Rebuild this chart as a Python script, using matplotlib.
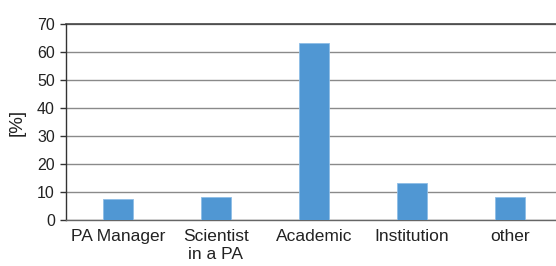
import matplotlib
matplotlib.use('Agg')
import matplotlib.pyplot as plt
import numpy as np

categories = ['PA Manager', 'Scientist\nin a PA', 'Academic', 'Institution', 'other']
values = [7.4, 8.1, 63.1, 13.2, 8.1]
yticks = [0, 10, 20, 30, 40, 50, 60, 70]

plt.rcParams['font.family'] = ['Liberation Sans', 'DejaVu Sans']

fig = plt.figure(figsize=(5.56, 2.66), dpi=100)
ax = fig.add_axes([66/556, 46/266, 490/556, 196/266])

x = np.arange(len(categories))
ax.bar(x, values, width=0.31, color='#5097D3', edgecolor='#8DBDE6', linewidth=0.6, zorder=3)

ax.set_ylim(0, 70)
ax.set_xlim(-0.53, 4.47)
ax.set_yticks(yticks)
ax.set_xticks(x)
ax.set_xticklabels(categories, color='#222222', fontsize=12.5, linespacing=1.25)
ax.set_yticklabels([str(v) for v in yticks], fontsize=11.5)
ax.yaxis.grid(True, color='#8a8a8a', linewidth=1.0, zorder=0)
ax.set_axisbelow(True)

for s in ['top', 'right']:
    ax.spines[s].set_visible(False)
ax.spines['left'].set_color('#333333')
ax.spines['bottom'].set_color('#666666')
ax.spines['left'].set_linewidth(1.0)
ax.spines['bottom'].set_linewidth(1.0)

ax.tick_params(axis='y', length=4, width=1.0, color='#333333', pad=4, labelcolor='#222222')
ax.tick_params(axis='x', length=0, pad=6.5)
ax.set_ylabel('[%]', color='#222222', fontsize=13.5, labelpad=8)

# darker top line
ax.axhline(70, color='#444444', linewidth=1.2, zorder=2, clip_on=False)

fig.savefig('out.png', dpi=100)
